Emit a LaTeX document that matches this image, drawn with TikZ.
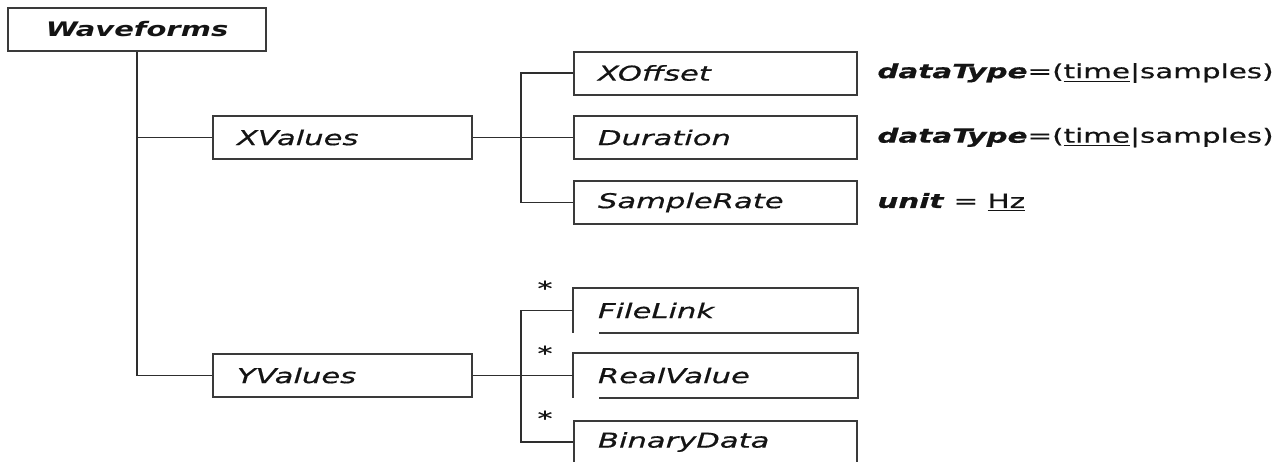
\documentclass[tikz,border=0pt]{standalone}
\usepackage{fontspec}
\setmainfont{DejaVu Sans}
\newfontfamily\diagfont[FakeStretch=1.5,FakeBold=0.6]{DejaVu Sans}
\newfontfamily\rootfont[FakeStretch=1.45]{DejaVu Sans}
\usetikzlibrary{positioning}
\definecolor{boxstroke}{HTML}{3A3A3A}
\definecolor{wiregray}{HTML}{2E2E2E}
\definecolor{labelink}{HTML}{141414}
\tikzset{
  element/.style={
    rectangle,
    draw=boxstroke,
    line width=1pt,
    fill=white,
    minimum width=141.5pt,
    minimum height=21.5pt,
    text width=117.5pt,
    inner xsep=12pt,
    inner ysep=0pt,
    align=left,
    text=labelink,
    font=\diagfont\itshape\fontsize{10.2}{12}\selectfont
  },
  shortelement/.style={
    element,
    minimum width=129.5pt,
    text width=105.5pt
  },
  rootelement/.style={
    element,
    minimum width=129pt,
    text width=105pt,
    align=center,
    font=\rootfont\bfseries\itshape\fontsize{10}{12}\selectfont
  },
  openelement/.style={element,draw=none},
  boxline/.style={draw=boxstroke,line width=1pt},
  wire/.style={draw=wiregray,line width=0.8pt},
  note/.style={anchor=west,inner sep=0pt,text=labelink,
    font=\diagfont\fontsize{9.8}{12}\selectfont},
  mult/.style={inner sep=0pt,text=labelink,
    font=\diagfont\fontsize{10}{12}\selectfont}
}

\begin{document}
\begin{tikzpicture}[x=0.5pt,y=-0.5pt]
  \useasboundingbox (0,0) rectangle (1283,461);
  \clip (0,0) rectangle (1283,461);

  % tree
  \node[rootelement] (waveforms) at (137,29.5) {Waveforms};
  \node[shortelement] (xvalues) at (342.5,137.5) {XValues};
  \node[shortelement] (yvalues) at (342.5,375.5) {YValues};

  \node[element] (xoffset) at (715.5,73) {XOffset};
  \node[element] (duration) at (715.5,137.5) {Duration};
  \node[element] (samplerate) at (715.5,202.5) {SampleRate};

  \node[openelement] (filelink) at (715.5,310.5) {FileLink};
  \node[openelement] (realvalue) at (715.5,375.5) {RealValue};
  \node[element] (binarydata) at (715.5,442) {BinaryData};

  % boxes left open at the lower left corner
  \foreach \n in {filelink,realvalue}
    \draw[boxline] ([xshift=13pt]\n.south west) -- (\n.south east)
      -- (\n.north east) -- (\n.north west) -- (\n.south west);

  \draw[wire] (waveforms.south) |- (yvalues.west);
  \draw[wire] (waveforms.south |- xvalues.west) -- (xvalues.west);

  \draw[wire] (xvalues.east) -- (duration.west);
  \draw[wire] (xoffset.west) -- ++(-26pt,0) |- (samplerate.west);

  \draw[wire] (yvalues.east) -- (realvalue.west);
  \draw[wire] (filelink.west) -- ++(-26pt,0) |- (binarydata.west);

  % multiplicities
  \node[mult] (multfile) at (545,288) {*};
  \node[mult] (multreal) at (545,353) {*};
  \node[mult] (multbin) at (545,418) {*};

  % attributes
  \node[note] (offsettype) at (877,73)
    {\textbf{\textit{dataType}}=(\underline{time}|samples)};
  \node[note] (durationtype) at (877,137.5)
    {\textbf{\textit{dataType}}=(\underline{time}|samples)};
  \node[note] (rateunit) at (877,202.5)
    {\textbf{\textit{unit}} = \underline{Hz}};
\end{tikzpicture}
\end{document}
